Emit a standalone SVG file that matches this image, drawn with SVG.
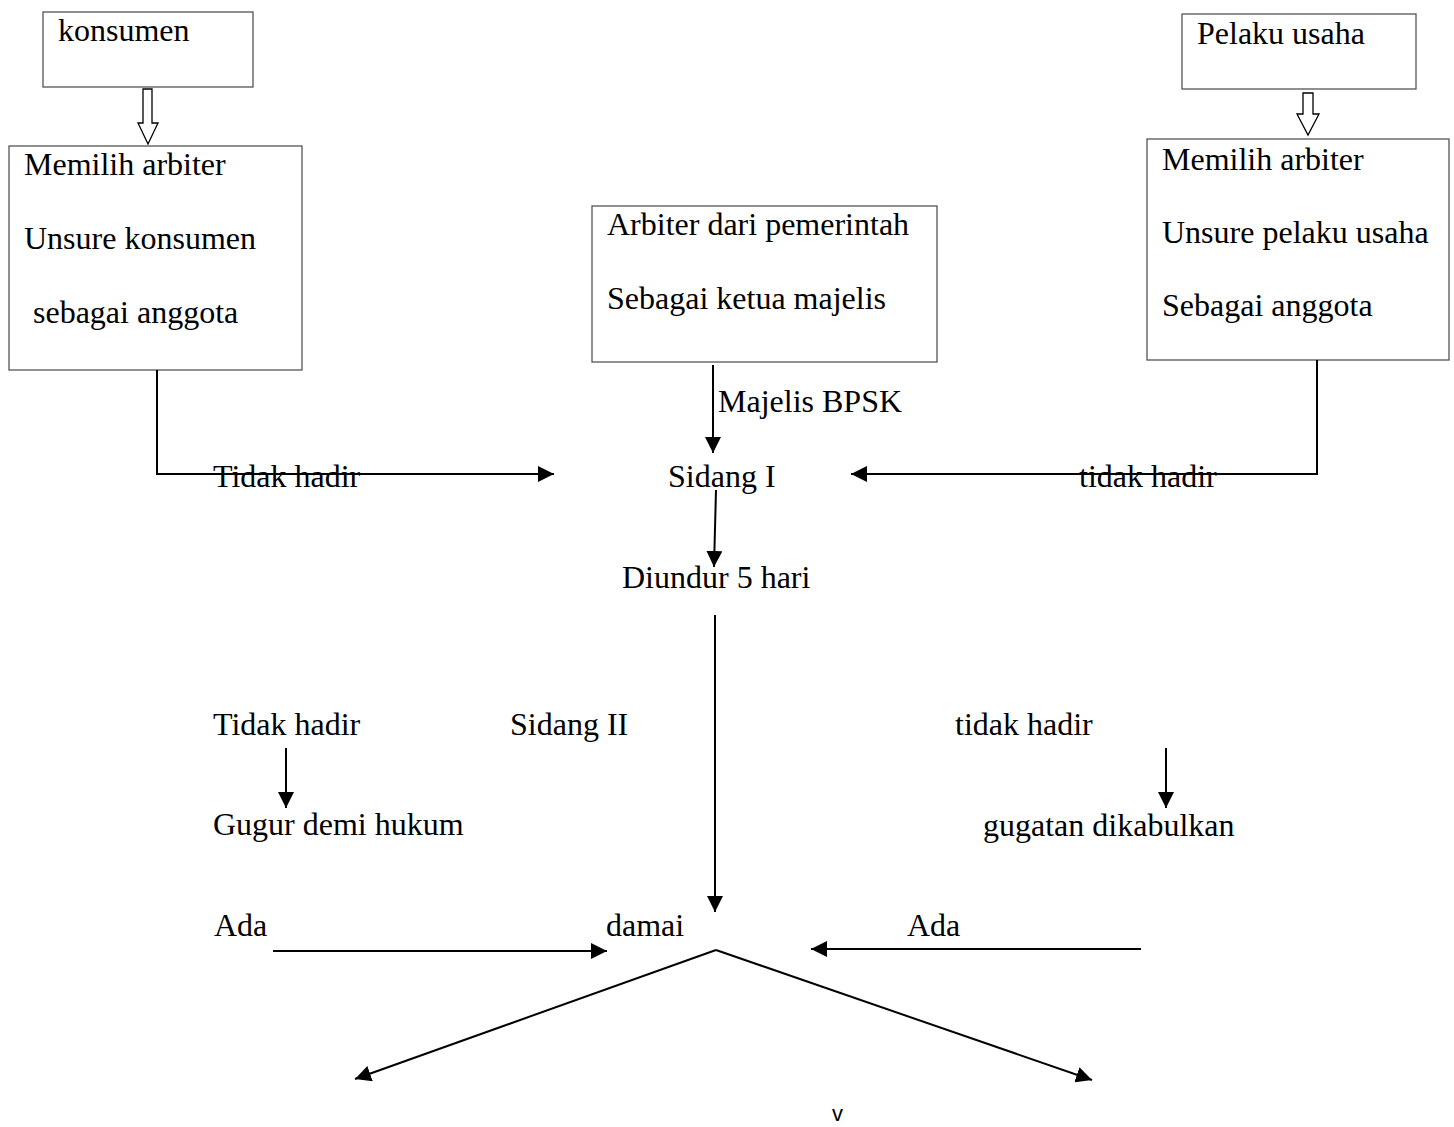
<svg xmlns="http://www.w3.org/2000/svg" width="1454" height="1127" viewBox="0 0 1454 1127">
  <style>
    .box { fill: #fff; stroke: #555; stroke-width: 1.3; }
    .t { font-family: "Liberation Serif", "Times New Roman", serif; font-size: 32px; fill: #000; }
    .s { font-family: "Liberation Sans", Arial, sans-serif; font-size: 22px; fill: #000; }
    .ln-a { fill: none; stroke: #000; stroke-width: 2; marker-end: url(#tip); }
    .hollow { fill: #fff; stroke: #000; stroke-width: 1.3; }
  </style>
  <defs>
    <marker id="tip" markerUnits="userSpaceOnUse" markerWidth="17" markerHeight="16" refX="16" refY="8" orient="auto">
      <path d="M0,0 L16,8 L0,16 Z" fill="#000"/>
    </marker>
  </defs>
  <rect width="1454" height="1127" fill="#fff"/>

  <!-- consumer side -->
  <g id="konsumen">
    <rect class="box" x="43" y="12" width="210" height="75"/>
    <text class="t" x="58" y="41">konsumen</text>
  </g>
  <g id="arbiter-konsumen">
    <rect class="box" x="9" y="146" width="293" height="224"/>
    <text class="t" x="24" y="175">Memilih arbiter</text>
    <text class="t" x="24" y="249">Unsure konsumen</text>
    <text class="t" x="33" y="323">sebagai anggota</text>
  </g>

  <!-- business side -->
  <g id="pelaku-usaha">
    <rect class="box" x="1182" y="14" width="234" height="75"/>
    <text class="t" x="1197" y="44">Pelaku usaha</text>
  </g>
  <g id="arbiter-pelaku">
    <rect class="box" x="1147" y="139" width="302" height="221"/>
    <text class="t" x="1162" y="170">Memilih arbiter</text>
    <text class="t" x="1162" y="243">Unsure pelaku usaha</text>
    <text class="t" x="1162" y="316">Sebagai anggota</text>
  </g>

  <!-- government arbiter -->
  <g id="arbiter-pemerintah">
    <rect class="box" x="592" y="206" width="345" height="156"/>
    <text class="t" x="607" y="235">Arbiter dari pemerintah</text>
    <text class="t" x="607" y="309">Sebagai ketua majelis</text>
  </g>

  <!-- hearing stages -->
  <g id="majelis-bpsk"><text class="t" x="718" y="412">Majelis BPSK</text></g>
  <g id="sidang-1"><text class="t" x="668" y="487">Sidang I</text></g>
  <g id="tidak-hadir-1a"><text class="t" x="213" y="487">Tidak hadir</text></g>
  <g id="tidak-hadir-1b"><text class="t" x="1079" y="487">tidak hadir</text></g>
  <g id="diundur"><text class="t" x="622" y="588">Diundur 5 hari</text></g>
  <g id="tidak-hadir-2a"><text class="t" x="213" y="735">Tidak hadir</text></g>
  <g id="sidang-2"><text class="t" x="510" y="735">Sidang II</text></g>
  <g id="tidak-hadir-2b"><text class="t" x="955" y="735">tidak hadir</text></g>
  <g id="gugur"><text class="t" x="213" y="835">Gugur demi hukum</text></g>
  <g id="dikabulkan"><text class="t" x="983" y="836">gugatan dikabulkan</text></g>
  <g id="ada-a"><text class="t" x="214" y="936">Ada</text></g>
  <g id="damai"><text class="t" x="606" y="936">damai</text></g>
  <g id="ada-b"><text class="t" x="907" y="936">Ada</text></g>
  <g id="v-mark"><text class="s" x="832" y="1121">v</text></g>

  <!-- connectors -->
  <g id="connectors">
    <polygon class="hollow" points="143,89 152,89 152,123 158,123 148,144 138,123 143,123"/>
    <polygon class="hollow" points="1303,93 1313,93 1313,114 1319,114 1308,135 1297,114 1303,114"/>

    <polyline class="ln-a" points="157,370 157,474 554,474"/>
    <polyline class="ln-a" points="1317,360 1317,474 851,474"/>
    <line class="ln-a" x1="713" y1="365" x2="713" y2="453"/>
    <line class="ln-a" x1="716" y1="490" x2="714" y2="567"/>
    <line class="ln-a" x1="715" y1="615" x2="715" y2="912"/>
    <line class="ln-a" x1="286" y1="748" x2="286" y2="808"/>
    <line class="ln-a" x1="1166" y1="748" x2="1166" y2="808"/>
    <line class="ln-a" x1="273" y1="951" x2="607" y2="951"/>
    <line class="ln-a" x1="1141" y1="949" x2="811" y2="949"/>
    <line class="ln-a" x1="716" y1="950" x2="355" y2="1079"/>
    <line class="ln-a" x1="716" y1="950" x2="1092" y2="1080"/>
  </g>
</svg>
